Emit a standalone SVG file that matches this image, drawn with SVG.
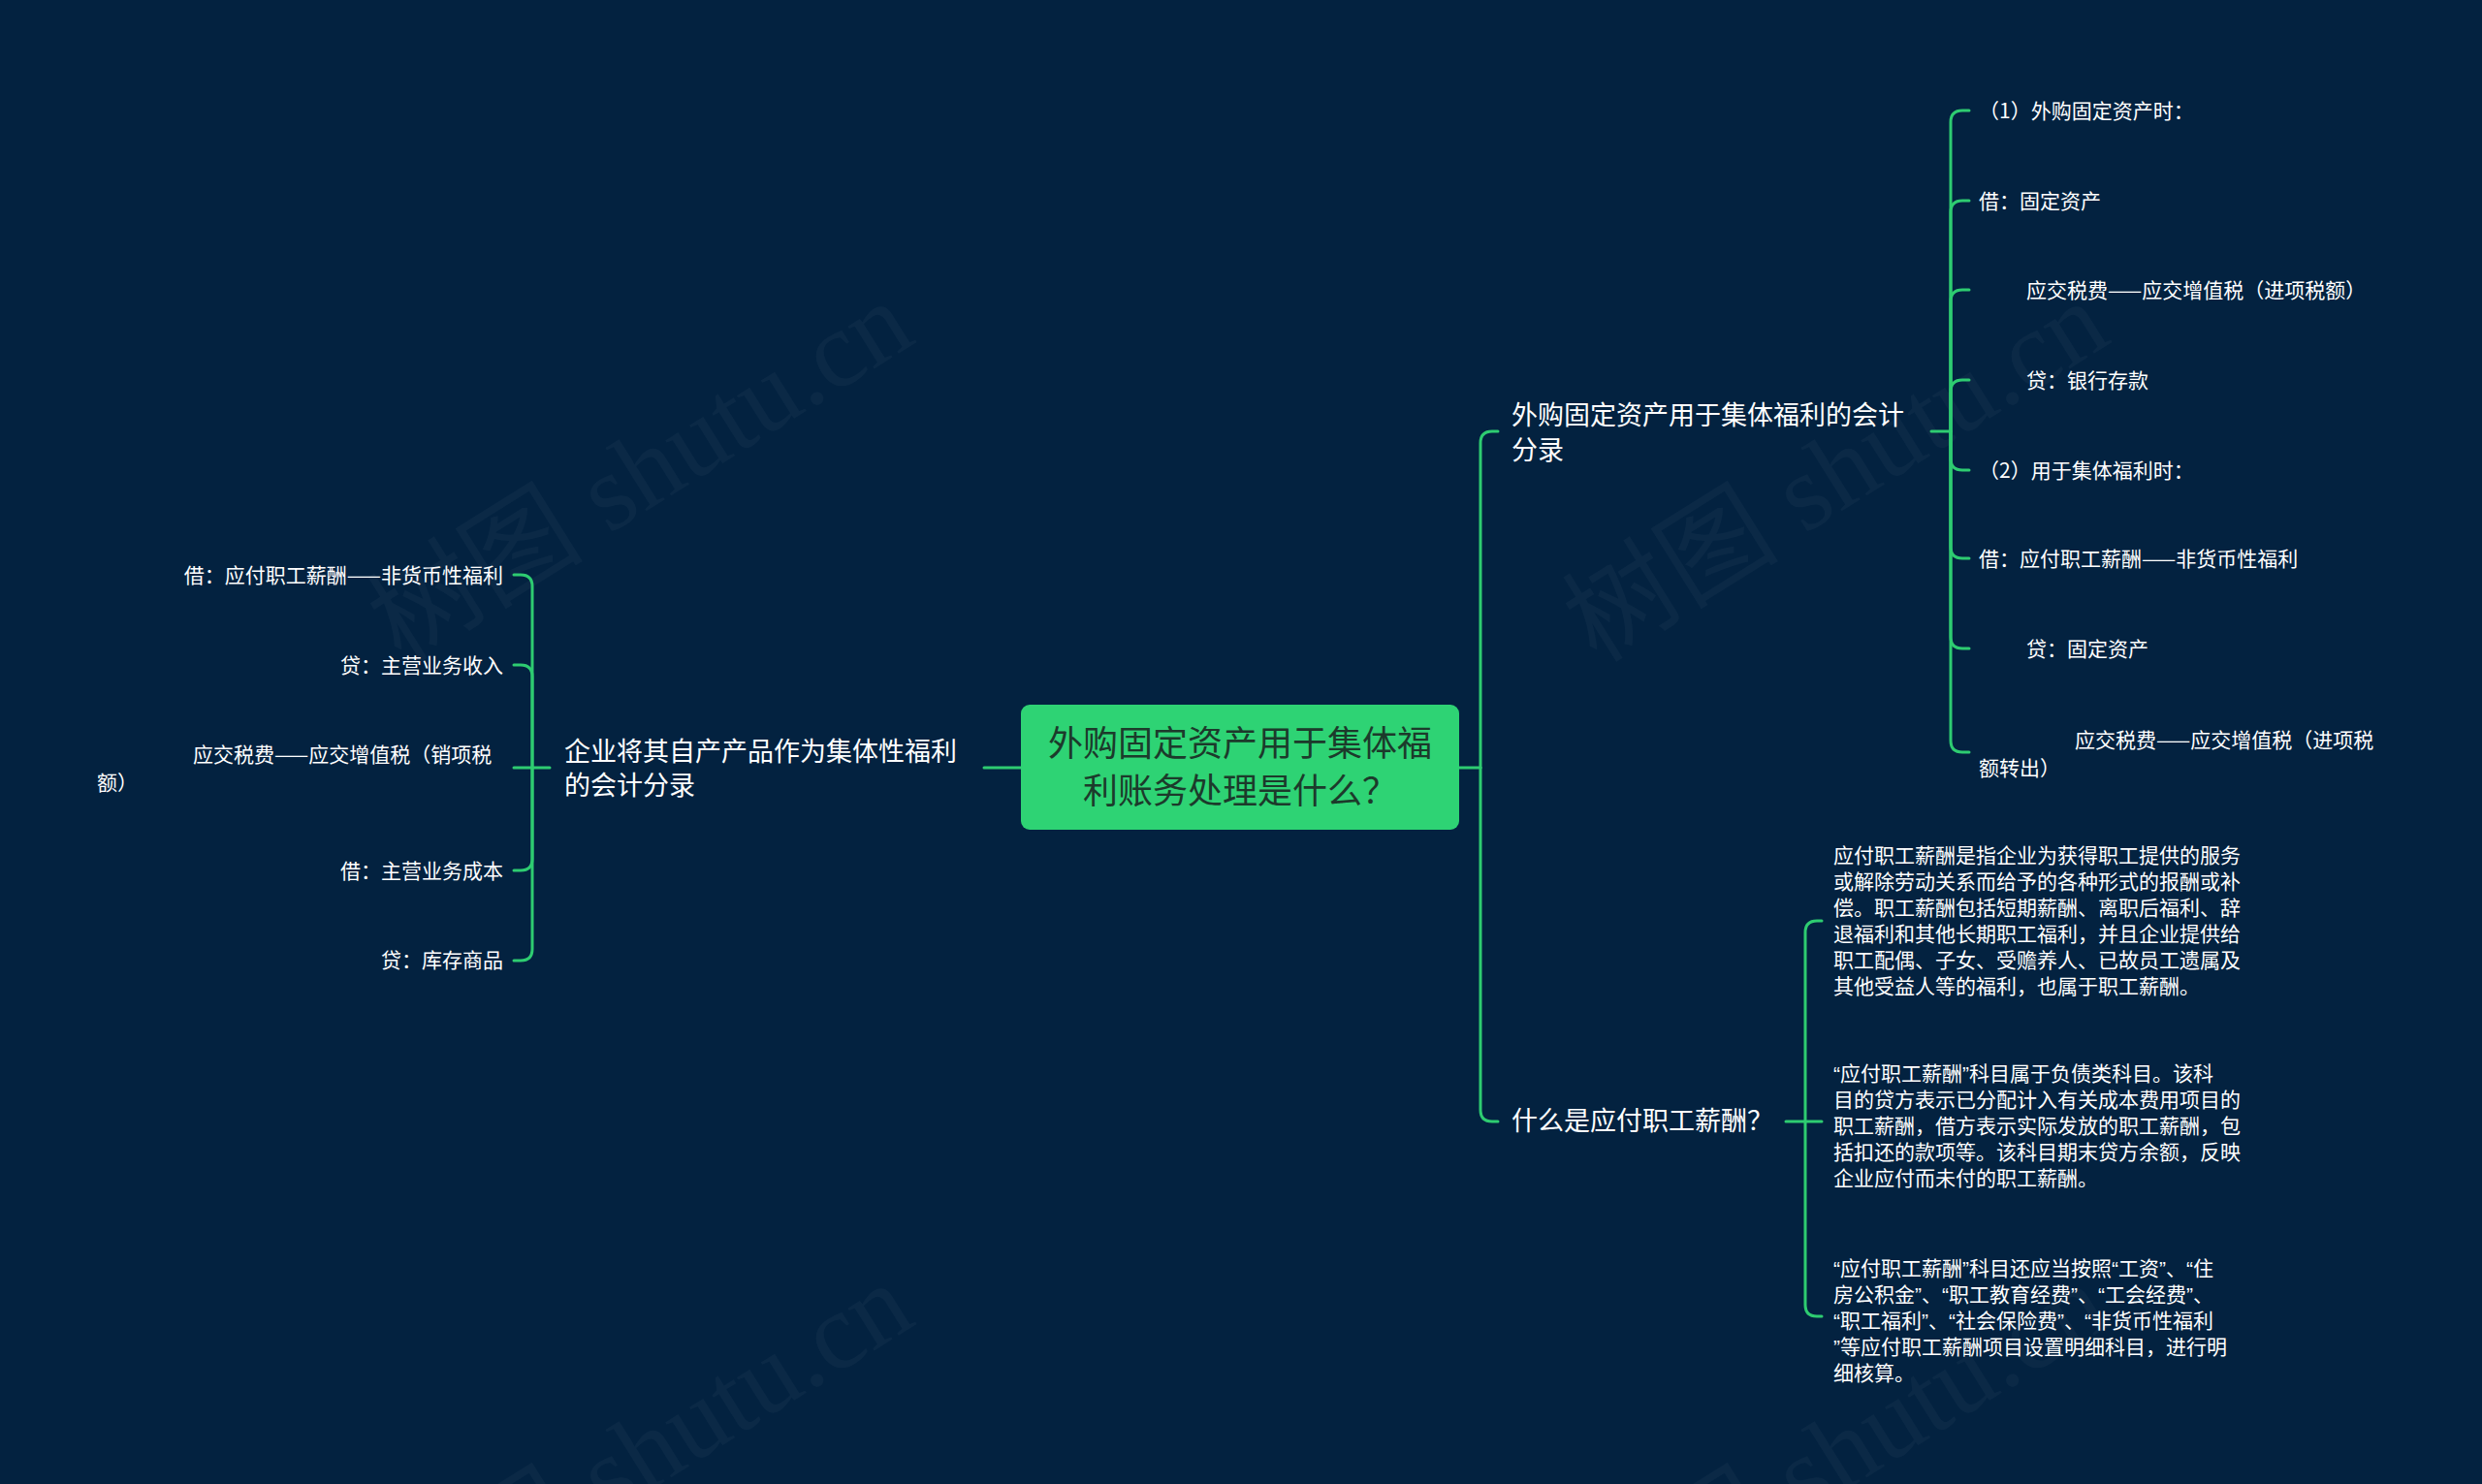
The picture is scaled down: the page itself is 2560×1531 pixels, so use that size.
<svg xmlns="http://www.w3.org/2000/svg" width="2560" height="1531" viewBox="0 0 2560 1531">
<style>
.bg{fill:#032240}
.wm{font-family:"Liberation Serif","Noto Sans CJK SC",serif;font-size:112px;fill:#ffffff;fill-opacity:0.035}
.ln{fill:none;stroke:#2ecc71;stroke-width:3;stroke-linecap:round}
.t{font-family:"Noto Sans CJK SC","Noto Sans",sans-serif;fill:#ffffff}
.q{font-family:"Liberation Sans","Noto Sans CJK SC",sans-serif}
.s{font-size:21px}
.m{font-size:27px}
.c{font-size:36px;fill:#1c3a2b;text-anchor:middle}
.e{text-anchor:end}
</style>
<rect class="bg" x="0" y="0" width="2560" height="1531"/>
<g id="watermarks">
<text class="wm" x="947" y="352" text-anchor="end" transform="rotate(-32 947 352)">树图 shutu.cn</text>
<text class="wm" x="2180" y="352" text-anchor="end" transform="rotate(-32 2180 352)">树图 shutu.cn</text>
<text class="wm" x="947" y="1365" text-anchor="end" transform="rotate(-32 947 1365)">树图 shutu.cn</text>
<text class="wm" x="2180" y="1365" text-anchor="end" transform="rotate(-32 2180 1365)">树图 shutu.cn</text>
</g>
<g id="connectors">
<path class="ln" d="M1053,792 H1015"/>
<path class="ln" d="M567,792 H530"/>
<path class="ln" d="M549,792 V605 Q549,593 537,593 H530"/>
<path class="ln" d="M549,792 V698 Q549,686 537,686 H530"/>
<path class="ln" d="M549,792 V886 Q549,898 537,898 H530"/>
<path class="ln" d="M549,792 V979 Q549,991 537,991 H530"/>
<path class="ln" d="M1505,792 H1527"/>
<path class="ln" d="M1527,792 V457 Q1527,445 1539,445 H1545"/>
<path class="ln" d="M1527,792 V1145 Q1527,1157 1539,1157 H1545"/>
<path class="ln" d="M1992,445 H2012"/>
<path class="ln" d="M2012,445 V126 Q2012,114 2024,114 H2031"/>
<path class="ln" d="M2012,445 V219 Q2012,207 2024,207 H2031"/>
<path class="ln" d="M2012,445 V311 Q2012,299 2024,299 H2031"/>
<path class="ln" d="M2012,445 V404 Q2012,392 2024,392 H2031"/>
<path class="ln" d="M2012,445 V473 Q2012,485 2024,485 H2031"/>
<path class="ln" d="M2012,445 V564 Q2012,576 2024,576 H2031"/>
<path class="ln" d="M2012,445 V657 Q2012,669 2024,669 H2031"/>
<path class="ln" d="M2012,445 V764 Q2012,776 2024,776 H2031"/>
<path class="ln" d="M1842,1157 H1879"/>
<path class="ln" d="M1862,1157 V962 Q1862,950 1874,950 H1879"/>
<path class="ln" d="M1862,1157 V1346 Q1862,1358 1874,1358 H1879"/>
</g>
<g id="root">
<rect x="1053" y="727" width="452" height="129" rx="9" fill="#2ed374"/>
<text class="t c" x="1279" y="780">外购固定资产用于集体福</text>
<text class="t c" x="1279" y="829">利账务处理是什么？</text>
</g>
<g id="n-left">
<text class="t m" x="582" y="785">企业将其自产产品作为集体性福利</text>
<text class="t m" x="582" y="820">的会计分录</text>
</g>
<g id="n-left-1"><text class="t s e" x="519" y="601">借：应付职工薪酬——非货币性福利</text></g>
<g id="n-left-2"><text class="t s e" x="519" y="694">贷：主营业务收入</text></g>
<g id="n-left-3">
<text class="t s" x="199" y="786">应交税费——应交增值税（销项税</text>
<text class="t s" x="100" y="815">额）</text>
</g>
<g id="n-left-4"><text class="t s e" x="519" y="906">借：主营业务成本</text></g>
<g id="n-left-5"><text class="t s e" x="519" y="998">贷：库存商品</text></g>
<g id="n-right-1">
<text class="t m" x="1559" y="438">外购固定资产用于集体福利的会计</text>
<text class="t m" x="1559" y="474">分录</text>
</g>
<g id="n-r1-1"><text class="t s" x="2041" y="122">（1）外购固定资产时：</text></g>
<g id="n-r1-2"><text class="t s" x="2041" y="215">借：固定资产</text></g>
<g id="n-r1-3"><text class="t s" x="2090" y="307">应交税费——应交增值税（进项税额）</text></g>
<g id="n-r1-4"><text class="t s" x="2090" y="400">贷：银行存款</text></g>
<g id="n-r1-5"><text class="t s" x="2041" y="493">（2）用于集体福利时：</text></g>
<g id="n-r1-6"><text class="t s" x="2041" y="584">借：应付职工薪酬——非货币性福利</text></g>
<g id="n-r1-7"><text class="t s" x="2090" y="677">贷：固定资产</text></g>
<g id="n-r1-8">
<text class="t s" x="2140" y="771">应交税费——应交增值税（进项税</text>
<text class="t s" x="2041" y="800">额转出）</text>
</g>
<g id="n-right-2"><text class="t m" x="1559" y="1166">什么是应付职工薪酬？</text></g>
<g id="n-r2-1">
<text class="t s" x="1891" y="890">应付职工薪酬是指企业为获得职工提供的服务</text>
<text class="t s" x="1891" y="917">或解除劳动关系而给予的各种形式的报酬或补</text>
<text class="t s" x="1891" y="944">偿。职工薪酬包括短期薪酬、离职后福利、辞</text>
<text class="t s" x="1891" y="971">退福利和其他长期职工福利，并且企业提供给</text>
<text class="t s" x="1891" y="998">职工配偶、子女、受赡养人、已故员工遗属及</text>
<text class="t s" x="1891" y="1025">其他受益人等的福利，也属于职工薪酬。</text>
</g>
<g id="n-r2-2">
<text class="t s" x="1891" y="1115"><tspan class="q">“</tspan>应付职工薪酬<tspan class="q">”</tspan>科目属于负债类科目。该科</text>
<text class="t s" x="1891" y="1142">目的贷方表示已分配计入有关成本费用项目的</text>
<text class="t s" x="1891" y="1169">职工薪酬，借方表示实际发放的职工薪酬，包</text>
<text class="t s" x="1891" y="1196">括扣还的款项等。该科目期末贷方余额，反映</text>
<text class="t s" x="1891" y="1223">企业应付而未付的职工薪酬。</text>
</g>
<g id="n-r2-3">
<text class="t s" x="1891" y="1316"><tspan class="q">“</tspan>应付职工薪酬<tspan class="q">”</tspan>科目还应当按照<tspan class="q">“</tspan>工资<tspan class="q">”</tspan>、<tspan class="q">“</tspan>住</text>
<text class="t s" x="1891" y="1343">房公积金<tspan class="q">”</tspan>、<tspan class="q">“</tspan>职工教育经费<tspan class="q">”</tspan>、<tspan class="q">“</tspan>工会经费<tspan class="q">”</tspan>、</text>
<text class="t s" x="1891" y="1370"><tspan class="q">“</tspan>职工福利<tspan class="q">”</tspan>、<tspan class="q">“</tspan>社会保险费<tspan class="q">”</tspan>、<tspan class="q">“</tspan>非货币性福利</text>
<text class="t s" x="1891" y="1397"><tspan class="q">”</tspan>等应付职工薪酬项目设置明细科目，进行明</text>
<text class="t s" x="1891" y="1424">细核算。</text>
</g>
</svg>
